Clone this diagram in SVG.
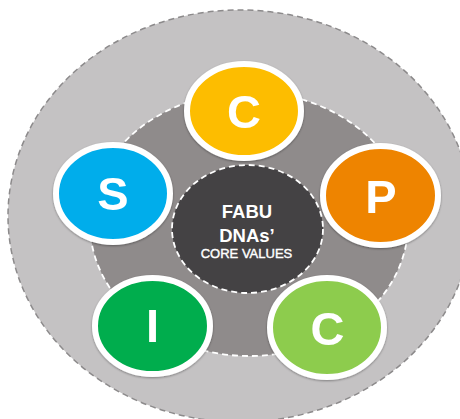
<svg xmlns="http://www.w3.org/2000/svg" width="460" height="419" viewBox="0 0 460 419">
<style>
.ring{stroke:#ffffff;stroke-width:6}
.letter{font-family:"Liberation Sans",Arial,sans-serif;font-weight:bold;font-size:47px;fill:#ffffff;text-anchor:middle}
.core{font-family:"Liberation Sans",Arial,sans-serif;fill:#ffffff;text-anchor:middle}
</style>
<defs>
<filter id="sh" x="-20%" y="-20%" width="140%" height="140%">
<feDropShadow dx="0" dy="1" stdDeviation="1.2" flood-color="#000000" flood-opacity="0.35"/>
</filter>
</defs>
<rect width="460" height="419" fill="#ffffff"/>
<g id="outer">
<ellipse cx="240" cy="216" rx="232" ry="206" fill="#c4c2c3" stroke="#8c8a8b" stroke-width="1.5" stroke-dasharray="6 4"/>
</g>
<g id="middle">
<ellipse cx="249" cy="224" rx="159" ry="132" fill="#8f8b8b" stroke="#ffffff" stroke-width="1.8" stroke-dasharray="6 4"/>
</g>
<g id="core">
<ellipse cx="247.5" cy="229" rx="75.5" ry="64" fill="#444244" stroke="#ffffff" stroke-width="1.8" stroke-dasharray="6 4"/>
<text class="core" x="247" y="218" font-size="18.5" font-weight="bold">FABU</text>
<text class="core" x="247" y="241.5" font-size="18.5" font-weight="bold">DNAs’</text>
<text class="core" x="246.5" y="257.5" font-size="13" stroke="#ffffff" stroke-width="0.4">CORE VALUES</text>
</g>
<g id="node-c-top" filter="url(#sh)">
<ellipse class="ring" cx="244" cy="111" rx="57" ry="47" fill="#fdbd00"/>
<text class="letter" x="244" y="128">C</text>
</g>
<g id="node-s" filter="url(#sh)">
<ellipse class="ring" cx="113" cy="193.5" rx="57" ry="48.5" fill="#00adeb"/>
<text class="letter" x="113" y="210">S</text>
</g>
<g id="node-p" filter="url(#sh)">
<ellipse class="ring" cx="380.5" cy="195.5" rx="57.5" ry="49.5" fill="#ee8400"/>
<text class="letter" x="381" y="212.5">P</text>
</g>
<g id="node-i" filter="url(#sh)">
<ellipse class="ring" cx="152.5" cy="326" rx="57.5" ry="48" fill="#00ad4e"/>
<text class="letter" x="152.5" y="342">I</text>
</g>
<g id="node-c-bottom" filter="url(#sh)">
<ellipse class="ring" cx="327" cy="327.5" rx="57" ry="49.5" fill="#8dcc4e"/>
<text class="letter" x="327.5" y="345">C</text>
</g>
<g id="connectors"/>
</svg>
